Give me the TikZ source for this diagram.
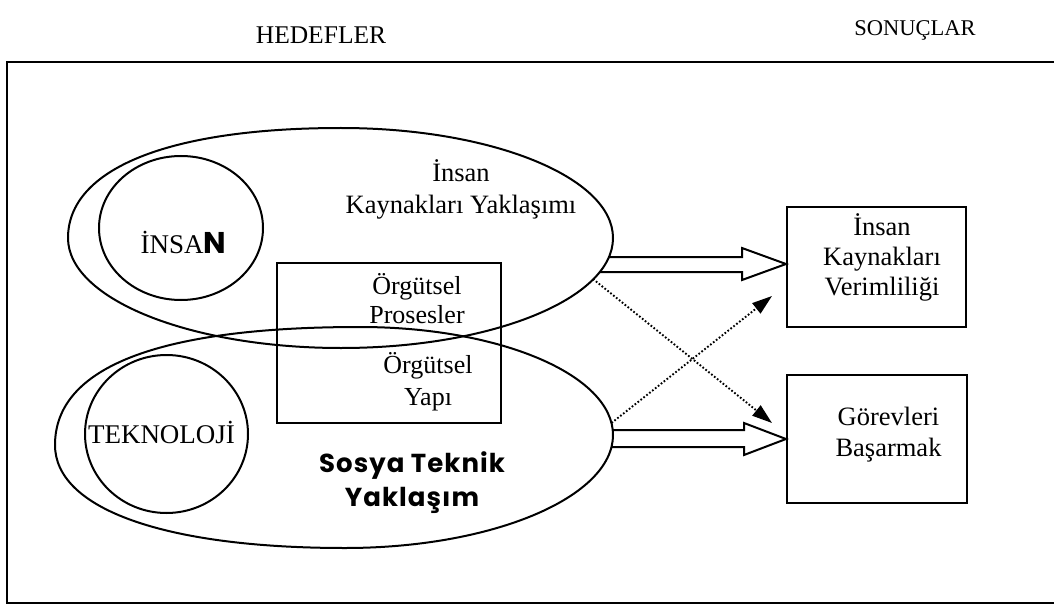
\documentclass[tikz,border=0pt]{standalone}
\usepackage{fontspec}
\setmainfont{Liberation Serif}
\newfontfamily\handfont{Poppins}[LetterSpace=4]
\newfontfamily\handletter{Poppins}
\usetikzlibrary{shapes.geometric,arrows.meta,calc}

\tikzset{
  outline/.style={draw, line width=2pt},
  blob/.style={draw, line width=2pt},
  oval/.style={ellipse, draw, line width=2pt, inner sep=0pt},
  boxnode/.style={rectangle, draw, line width=2pt, inner sep=0pt},
  txt/.style={font=\fontsize{26.5}{30}\selectfont, align=center, inner sep=0pt},
  handtxt/.style={font=\handfont\bfseries\fontsize{26}{34}\selectfont, align=center, inner sep=0pt},
  hollow/.style={draw, line width=2pt, line join=miter},
  dotarrow/.style={line width=1.9pt, dash pattern=on 1.7pt off 2pt,
    -{Triangle[length=20pt,width=13pt]}}
}

\begin{document}
\begin{tikzpicture}[x=1pt,y=-1pt]
\useasboundingbox (0,0) rectangle (1054,604);

% column headings
\node[txt, font=\fontsize{25.5}{30}\selectfont] (hedef) at (321,35) {HEDEFLER};
\node[txt, font=\fontsize{22.5}{30}\selectfont] (sonuc) at (915,30) {SONUÇLAR};

% open frame (right side runs off the page)
\draw[outline] (1054,62) -- (7,62) -- (7,603) -- (1054,603);

% human resources approach: oval, a little fuller at the upper left
\draw[blob] (68,238) .. controls (68,168.7) and (169,128) .. (341,128)
  .. controls (491,128) and (613,177) .. (613,238)
  .. controls (613,299) and (491,348) .. (341,348)
  .. controls (190,348) and (68,299) .. cycle;

% socio-technical approach: oval, fuller on the left
\draw[blob] (55,445) .. controls (55,367) and (159,327) .. (360,327)
  .. controls (500,327) and (613,375) .. (613,435)
  .. controls (613,497) and (493,548) .. (345,548)
  .. controls (165,548) and (55,509) .. cycle;

% points where the links leave the ovals
\coordinate (hrA) at (609,257);
\coordinate (hrB) at (599.5,272);
\coordinate (hrD) at (593,279);
\coordinate (stA) at (612.8,430);
\coordinate (stB) at (611,447);
\coordinate (stD) at (611.5,423);

% inner circles and the shared box
\node[oval, minimum width=164pt, minimum height=144pt] (insanc) at (181,228) {};
\node[oval, minimum width=163pt, minimum height=158pt] (teknoc) at (166.5,434) {};
\node[boxnode, minimum width=224pt, minimum height=160pt] (org) at (389,343) {};

% outcomes
\node[boxnode, minimum width=179pt, minimum height=120pt] (hrv) at (876.5,267) {};
\node[boxnode, minimum width=180pt, minimum height=128pt] (gb) at (877,439) {};

% labels
\node[txt, font=\fontsize{26.5}{32}\selectfont] (hrtext) at (461,189.5) {İnsan\\Kaynakları Yaklaşımı};
\node[txt, font=\fontsize{27}{30}\selectfont] (insantext) at (183.5,242.3)
  {İNSA{\handletter\bfseries\fontsize{30}{30}\selectfont N}};
\node[txt, font=\fontsize{27}{30}\selectfont] (tektext) at (161.5,432.3) {TEKNOLOJİ};
\node[txt, font=\fontsize{26}{29}\selectfont] (prosesler) at (417,299) {Örgütsel\\Prosesler};
\node[txt, font=\fontsize{26}{32}\selectfont] (yapi) at (428,381.5) {Örgütsel\\Yapı};
\node[handtxt] (sttext) at (412,482.6) {Sosya Teknik\\Yaklaşım};
\node[txt] (hrvtext) at (882,257.5) {İnsan\\Kaynakları\\Verimliliği};
\node[txt, font=\fontsize{26.5}{31}\selectfont] (gbtext) at (888.5,435) {Görevleri\\Başarmak};

% hollow arrows
\path (0,264) coordinate (ya) (0,439) coordinate (yb);
\coordinate (ta) at (hrv.west |- ya);
\coordinate (tb) at (gb.west |- yb);
\coordinate (tabase) at ($(ta)+(-44,0)$);
\coordinate (tbbase) at ($(tb)+(-42,0)$);

\draw[hollow] (hrA) -- (hrA -| tabase) -- ($(tabase)+(0,-16)$) -- (ta)
  -- ($(tabase)+(0,16)$) -- (hrB -| tabase) -- (hrB);
\draw[hollow] (stA) -- (stA -| tbbase) -- ($(tbbase)+(0,-16)$) -- (tb)
  -- ($(tbbase)+(0,16)$) -- (stB -| tbbase) -- (stB);

% dotted cross links
\coordinate (d1end) at (772,423);
\coordinate (d2end) at (772,296);
\draw[dotarrow] (hrD) -- (d1end);
\draw[dotarrow] (stD) -- (d2end);
\end{tikzpicture}
\end{document}
